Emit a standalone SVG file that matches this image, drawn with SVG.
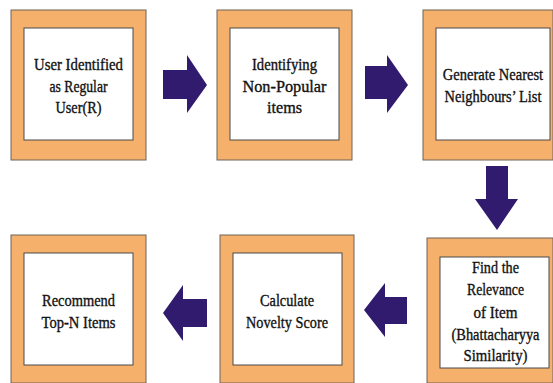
<svg xmlns="http://www.w3.org/2000/svg" width="553" height="383" viewBox="0 0 553 383">
<style>
.outer{fill:#F5B06B;stroke:#6e6358;stroke-width:1}
.inner{fill:#ffffff;stroke:#4a4a4a;stroke-width:1}
.arrow{fill:#311B6E}
text{font-family:"Liberation Serif","Times New Roman",serif;font-size:16.5px;fill:#111111;stroke:#111111;stroke-width:0.35;text-anchor:middle}
</style>
<rect width="553" height="383" fill="#ffffff"/>
<g id="connectors">
<polygon class="arrow" points="163,70 187,70 187,55 207,85 187,113 187,99 163,99"/>
<polygon class="arrow" points="365,66 387,66 387,55 408,85 387,113 387,99 365,99"/>
<polygon class="arrow" points="486,166 508,166 508,199 518,199 497,230 475,199 486,199"/>
<polygon class="arrow" points="407,297 385,297 385,283 364,310 385,337 385,324 407,324"/>
<polygon class="arrow" points="207,299 183,299 183,285 163,313 183,341 183,327 207,327"/>
</g>
<g id="node1">
<rect class="outer" x="11" y="10" width="135" height="150"/>
<rect class="inner" x="24" y="28" width="109" height="112"/>
<text x="78.5" y="70" textLength="89" lengthAdjust="spacingAndGlyphs">User Identified</text>
<text x="78.5" y="92" textLength="58" lengthAdjust="spacingAndGlyphs">as Regular</text>
<text x="78.5" y="113" textLength="46" lengthAdjust="spacingAndGlyphs">User(R)</text>
</g>
<g id="node2">
<rect class="outer" x="217" y="10" width="135" height="150"/>
<rect class="inner" x="230" y="28" width="109" height="112"/>
<text x="284.5" y="70" textLength="65" lengthAdjust="spacingAndGlyphs">Identifying</text>
<text x="284.5" y="92" textLength="84" lengthAdjust="spacingAndGlyphs">Non-Popular</text>
<text x="284.5" y="113" textLength="35" lengthAdjust="spacingAndGlyphs">items</text>
</g>
<g id="node3">
<rect class="outer" x="423" y="10" width="130" height="150"/>
<rect class="inner" x="436" y="28" width="114" height="112"/>
<text transform="translate(493,80) scale(0.85,1)" x="0" y="0" textLength="118" lengthAdjust="spacingAndGlyphs">Generate Nearest</text>
<text transform="translate(493,102) scale(0.85,1)" x="0" y="0" textLength="114" lengthAdjust="spacingAndGlyphs">Neighbours’ List</text>
</g>
<g id="node4">
<rect class="outer" x="427" y="238" width="126" height="145"/>
<rect class="inner" x="440" y="257" width="109" height="111"/>
<text x="495.5" y="273" textLength="47" lengthAdjust="spacingAndGlyphs">Find the</text>
<text x="495.5" y="295" textLength="57" lengthAdjust="spacingAndGlyphs">Relevance</text>
<text x="495.5" y="318" textLength="44" lengthAdjust="spacingAndGlyphs">of Item</text>
<text x="495.5" y="340" textLength="88" lengthAdjust="spacingAndGlyphs">(Bhattacharyya</text>
<text x="495.5" y="361" textLength="64" lengthAdjust="spacingAndGlyphs">Similarity)</text>
</g>
<g id="node5">
<rect class="outer" x="220" y="235" width="134" height="148"/>
<rect class="inner" x="233" y="253" width="109" height="112"/>
<text x="287" y="306" textLength="54" lengthAdjust="spacingAndGlyphs">Calculate</text>
<text x="287" y="328" textLength="82" lengthAdjust="spacingAndGlyphs">Novelty Score</text>
</g>
<g id="node6">
<rect class="outer" x="11" y="235" width="135" height="148"/>
<rect class="inner" x="24" y="253" width="109" height="112"/>
<text x="78.5" y="306" textLength="73" lengthAdjust="spacingAndGlyphs">Recommend</text>
<text x="78.5" y="328" textLength="74" lengthAdjust="spacingAndGlyphs">Top-N Items</text>
</g>
</svg>
